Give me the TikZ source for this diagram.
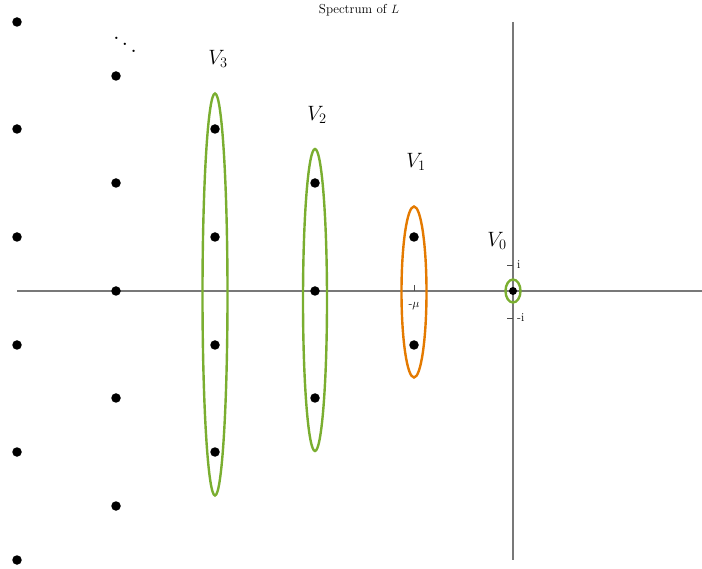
\documentclass[tikz,border=0pt]{standalone}
\usepackage{tikz}
\definecolor{vgreen}{RGB}{122,174,48}
\definecolor{vorange}{RGB}{228,122,0}
\definecolor{axgray}{RGB}{120,120,120}
\begin{document}
\begin{tikzpicture}[x=1pt,y=-1pt,
  axis/.style={draw=axgray,line width=1.4pt},
  tick/.style={draw=black!70,line width=0.8pt},
  eig/.style={circle,fill=black,inner sep=0pt,minimum size=9.5pt},
  grp/.style={draw=vgreen,line width=2.4pt},
  grpo/.style={draw=vorange,line width=2.4pt},
  vlabel/.style={font=\fontsize{20}{23}\selectfont},
  small/.style={font=\fontsize{12}{14}\selectfont,inner sep=1pt}]
\useasboundingbox (0,0) rectangle (702,569);
% axes
\coordinate (xl) at (17,291); \coordinate (xr) at (702,291);
\coordinate (yt) at (513,22); \coordinate (yb) at (513,560);
\draw[axis] (xl) -- (xr);
\draw[axis] (yt) -- (yb);
\node[font=\fontsize{13}{15}\selectfont] (title) at (359,10) {Spectrum of $L$};
% ticks
\coordinate (ti1) at (507,265); \coordinate (ti2) at (513,265);
\coordinate (tm1) at (507,318); \coordinate (tm2) at (513,318);
\coordinate (tmu1) at (414,285); \coordinate (tmu2) at (414,291);
\draw[tick] (ti1) -- (ti2);
\draw[tick] (tm1) -- (tm2);
\draw[tick] (tmu1) -- (tmu2);
\node[small,anchor=west] (li) at (516,265) {i};
\node[small,anchor=west] (lmi) at (516,318) {-i};
\node[small] (lmu) at (414,306) {-$\mu$};
% eigenvalues
\foreach \y [count=\i] in {22,129,237,345,452,560} \node[eig] (a\i) at (17,\y) {};
\foreach \y [count=\i] in {76,183,291,398,506} \node[eig] (b\i) at (116,\y) {};
\foreach \y [count=\i] in {129,237,345,452} \node[eig] (c\i) at (215,\y) {};
\foreach \y [count=\i] in {183,291,398} \node[eig] (d\i) at (315,\y) {};
\foreach \y [count=\i] in {237,345} \node[eig] (e\i) at (414,\y) {};
\node[eig,minimum size=8pt] (f1) at (513,291) {};
\node[scale=2.2,inner sep=0pt] (dd) at (125,38) {$\ddots$};
% groups
\draw[grp] (215,294.5) ellipse [x radius=12.5, y radius=201];
\draw[grp] (315,300) ellipse [x radius=12, y radius=151];
\draw[grpo] (414,292) ellipse [x radius=12.5, y radius=85.5];
\draw[grp] (513,291) ellipse [x radius=7.5, y radius=11.5];
\node[vlabel] (V3) at (218,59) {$V_3$};
\node[vlabel] (V2) at (317,115) {$V_2$};
\node[vlabel] (V1) at (416,162) {$V_1$};
\node[vlabel] (V0) at (497,241) {$V_0$};
\end{tikzpicture}
\end{document}
